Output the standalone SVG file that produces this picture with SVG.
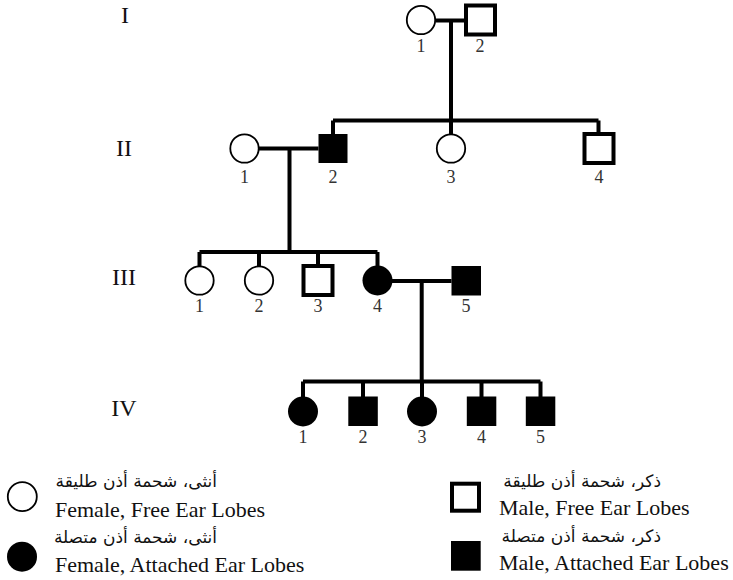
<svg xmlns="http://www.w3.org/2000/svg" width="733" height="580" viewBox="0 0 733 580">
<style>
.f{fill:#fff;stroke:#000;stroke-width:1.8}
.a{fill:#000;stroke:none}
.m{fill:#fff;stroke:#000;stroke-width:4}
.ms{fill:#000;stroke:none}
.ln{fill:none;stroke:#000;stroke-width:4}
.num{font-family:"Liberation Serif","Times New Roman",serif;font-size:18px;fill:#333;text-anchor:middle}
.gen{font-family:"Liberation Serif","Times New Roman",serif;font-size:24px;fill:#111;text-anchor:middle}
.en{font-family:"Liberation Serif","Times New Roman",serif;font-size:22px;fill:#111}
.ar{font-family:"DejaVu Sans","Noto Sans",sans-serif;font-size:17px;fill:#111;text-anchor:end}
</style>
<rect width="733" height="580" fill="#fff"/>
<g id="generation-labels">
<text class="gen" x="125" y="23">I</text>
<text class="gen" x="124" y="156">II</text>
<text class="gen" x="124" y="285">III</text>
<text class="gen" x="124" y="416">IV</text>
</g>
<g id="connectors">
<path class="ln" d="M436 20.5H466M451 20.5V120.5M333 120.5H598.5M333 120.5V134M598.5 120.5V134M451 120.5V134"/>
<path class="ln" d="M259 148.5H318.5M289.5 148.5V252M199.5 252H377.5M199.5 252V266M259 252V266M318 252V266M377.5 252V266"/>
<path class="ln" d="M392 281H451.5M421.7 281V381.5M303 381.5H540.5M303 381.5V397M363 381.5V397M422 381.5V397M481.5 381.5V397M540.5 381.5V397"/>
</g>
<g id="I-1"><circle class="f" cx="421" cy="20" r="14.2"/><text class="num" x="421" y="52">1</text></g>
<g id="I-2"><rect class="m" x="466" y="5.5" width="29" height="29"/><text class="num" x="480" y="52">2</text></g>
<g id="II-1"><circle class="f" cx="244.5" cy="148.5" r="14.2"/><text class="num" x="244.5" y="183">1</text></g>
<g id="II-2"><rect class="ms" x="318.5" y="134" width="29" height="29"/><text class="num" x="333" y="183">2</text></g>
<g id="II-3"><circle class="f" cx="451" cy="148.5" r="14.2"/><text class="num" x="451" y="183">3</text></g>
<g id="II-4"><rect class="m" x="584.5" y="134" width="29" height="29"/><text class="num" x="599" y="183">4</text></g>
<g id="III-1"><circle class="f" cx="199.5" cy="280.5" r="14.2"/><text class="num" x="199.5" y="312">1</text></g>
<g id="III-2"><circle class="f" cx="259" cy="280.5" r="14.2"/><text class="num" x="259" y="312">2</text></g>
<g id="III-3"><rect class="m" x="303.5" y="266" width="29" height="29"/><text class="num" x="318" y="312">3</text></g>
<g id="III-4"><circle class="a" cx="377.5" cy="280.5" r="15"/><text class="num" x="377.5" y="312">4</text></g>
<g id="III-5"><rect class="ms" x="451.5" y="266" width="29.5" height="29.5"/><text class="num" x="466" y="312">5</text></g>
<g id="IV-1"><circle class="a" cx="303" cy="411.5" r="15"/><text class="num" x="303" y="443">1</text></g>
<g id="IV-2"><rect class="ms" x="348.3" y="396.5" width="29.5" height="29.5"/><text class="num" x="363" y="443">2</text></g>
<g id="IV-3"><circle class="a" cx="422" cy="411.5" r="15"/><text class="num" x="422" y="443">3</text></g>
<g id="IV-4"><rect class="ms" x="466.8" y="396.5" width="29.5" height="29.5"/><text class="num" x="481.5" y="443">4</text></g>
<g id="IV-5"><rect class="ms" x="525.8" y="396.5" width="29.5" height="29.5"/><text class="num" x="540.5" y="443">5</text></g>
<g id="legend-female-free"><circle class="f" cx="22.3" cy="496.7" r="14.5"/><text class="ar" x="217" y="487">أنثى، شحمة أذن طليقة</text><text class="en" x="55" y="517">Female, Free Ear Lobes</text></g>
<g id="legend-female-attached"><circle class="a" cx="22" cy="556.7" r="15"/><text class="ar" x="217" y="543">أنثى، شحمة أذن متصلة</text><text class="en" x="55" y="571.5">Female, Attached Ear Lobes</text></g>
<g id="legend-male-free"><rect class="m" x="452" y="483.7" width="27" height="27"/><text class="ar" x="661" y="487">ذكر، شحمة أذن طليقة</text><text class="en" x="499" y="515">Male, Free Ear Lobes</text></g>
<g id="legend-male-attached"><rect class="ms" x="451" y="541" width="29.7" height="29.7"/><text class="ar" x="661" y="542">ذكر، شحمة أذن متصلة</text><text class="en" x="499" y="570">Male, Attached Ear Lobes</text></g>
</svg>
